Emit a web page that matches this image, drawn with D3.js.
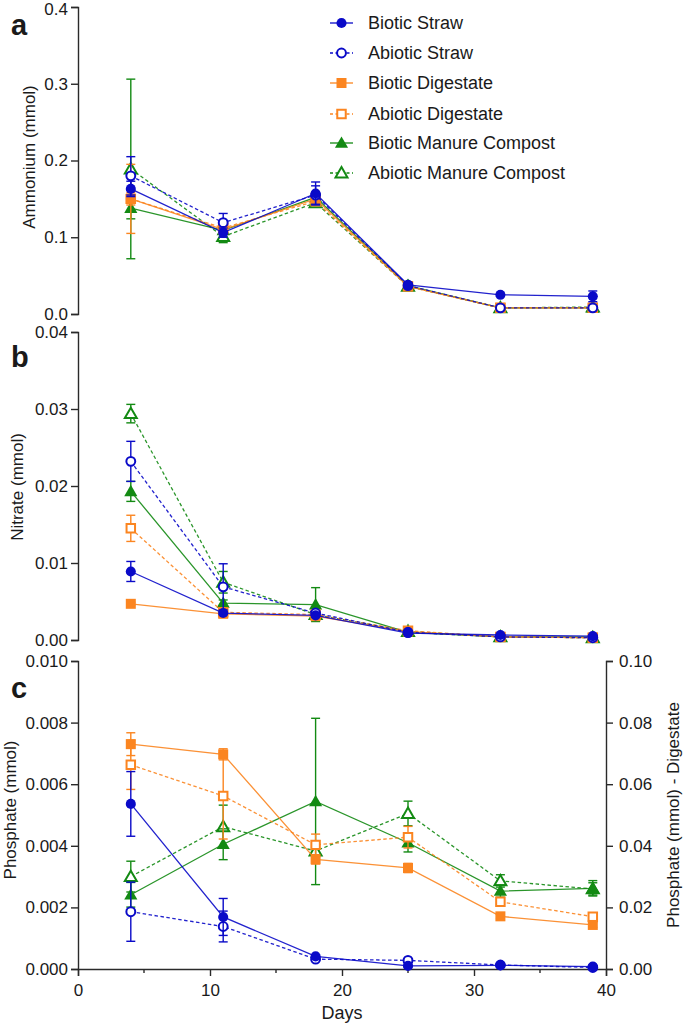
<!DOCTYPE html>
<html>
<head>
<meta charset="utf-8">
<script src="https://cdn.jsdelivr.net/npm/d3@7"></script>
<style>
  html, body { margin: 0; padding: 0; background: #fff; }
  svg { display: block; }
  text { font-family: Arial, "Liberation Sans", sans-serif; fill: #1a1a1a; }
</style>
</head>
<body>
<svg id="chart" width="685" height="1029"></svg>
<script>
// ---------- DATA ----------
const days = [4, 11, 18, 25, 32, 39];
const seriesNames = ["Biotic Straw", "Abiotic Straw", "Biotic Digestate", "Abiotic Digestate", "Biotic Manure Compost", "Abiotic Manure Compost"];
const seriesColors = ["#0a0ac8", "#0a0ac8", "#fb8520", "#fb8520", "#138a13", "#138a13"];
const seriesShapes = ["circle", "circle", "square", "square", "triangle", "triangle"];
const seriesFilled = [true, false, true, false, true, false];

// Ammonium (mmol)
const ammoniumMeans = [
  [0.163, 0.106, 0.157, 0.038, 0.025, 0.023],
  [0.180, 0.119, 0.155, 0.037, 0.008, 0.008],
  [0.150, 0.110, 0.150, 0.036, 0.008, 0.008],
  [0.150, 0.112, 0.147, 0.036, 0.008, 0.008],
  [0.138, 0.109, 0.152, 0.037, 0.008, 0.008],
  [0.189, 0.101, 0.145, 0.036, 0.008, 0.009]
];
const ammoniumErrors = [
  [0.010, 0.006, 0.015, 0.003, 0.002, 0.007],
  [0.025, 0.012, 0.012, 0.003, 0.001, 0.001],
  [0.008, 0.005, 0.006, 0.003, 0.001, 0.001],
  [0.045, 0.006, 0.005, 0.003, 0.001, 0.001],
  [0.014, 0.004, 0.005, 0.002, 0.001, 0.001],
  [0.117, 0.008, 0.005, 0.003, 0.001, 0.001]
];

// Nitrate (mmol)
const nitrateMeans = [
  [0.0089, 0.0035, 0.0032, 0.0009, 0.00065, 0.0005],
  [0.0232, 0.0069, 0.0035, 0.0010, 0.0004, 0.0003],
  [0.0047, 0.0034, 0.0031, 0.0011, 0.0004, 0.0003],
  [0.0145, 0.0036, 0.0033, 0.0012, 0.0004, 0.0003],
  [0.0193, 0.0048, 0.0046, 0.0010, 0.0004, 0.0004],
  [0.0294, 0.0075, 0.0033, 0.0011, 0.0004, 0.0003]
];
const nitrateErrors = [
  [0.0013, 0.0002, 0.0002, 0.0001, 0.0001, 0.0001],
  [0.0026, 0.0030, 0.0003, 0.0001, 0.0001, 0.0001],
  [0.0002, 0.0002, 0.0002, 0.0001, 0.0001, 0.0001],
  [0.0017, 0.0002, 0.0002, 0.0001, 0.0001, 0.0001],
  [0.0013, 0.0004, 0.0022, 0.0001, 0.0001, 0.0001],
  [0.0012, 0.0014, 0.0003, 0.0001, 0.0001, 0.0001]
];

// Phosphate (mmol); digestate series are on the right axis
const phosphateMeans = [
  [0.00536, 0.00169, 0.00041, 0.00010, 0.00012, 0.00008],
  [0.00186, 0.00138, 0.00032, 0.00028, 0.00013, 0.00005],
  [0.0730, 0.0697, 0.0356, 0.0328, 0.0171, 0.0143],
  [0.0663, 0.0562, 0.0403, 0.0428, 0.0218, 0.0170],
  [0.00241, 0.00405, 0.00544, 0.00410, 0.00253, 0.00262],
  [0.00300, 0.00462, 0.00383, 0.00505, 0.00286, 0.00260]
];
const phosphateErrors = [
  [0.00105, 0.0006, 0.00005, 0.00003, 0.00005, 0.00003],
  [0.00096, 0.0005, 0.00005, 0.00005, 0.00003, 0.00003],
  [0.0037, 0.0018, 0.0015, 0.0015, 0.0008, 0.0008],
  [0.0080, 0.0140, 0.0035, 0.0035, 0.0010, 0.0010],
  [0.0004, 0.0005, 0.0027, 0.0003, 0.0002, 0.00025],
  [0.0005, 0.0007, 0.0002, 0.0004, 0.0002, 0.0002]
];
const phosphateRightAxis = [false, false, true, true, false, false];

const ammoniumTicks = [0, 0.1, 0.2, 0.3, 0.4];
const nitrateTicks = [0, 0.01, 0.02, 0.03, 0.04];
const phosphateTicks = [0, 0.002, 0.004, 0.006, 0.008, 0.010];
const phosphateRightTicks = [0, 0.02, 0.04, 0.06, 0.08, 0.10];
const dayTicks = [0, 10, 20, 30, 40];
const dayMinorTicks = [5, 15, 25, 35];

// ---------- DRAW ----------
const svg = d3.select("#chart");
const X0 = 78, X1 = 606;
const x = d3.scaleLinear().domain([0, 40]).range([X0, X1]);
const AXIS = "#2a2a2a";
const FS = 17;

function symbolPath(shape) {
  if (shape === "circle") return d3.symbol(d3.symbolCircle, 80)();
  if (shape === "square") return d3.symbol(d3.symbolSquare, 100)();
  return d3.symbol(d3.symbolTriangle, 75)();
}
function openSymbolPath(shape) {
  if (shape === "circle") return d3.symbol(d3.symbolCircle, 62)();
  if (shape === "square") return d3.symbol(d3.symbolSquare, 72)();
  return d3.symbol(d3.symbolTriangle, 62)();
}

function styleAxis(g) {
  g.select(".domain").attr("stroke", AXIS).attr("stroke-width", 1.4);
  g.selectAll(".tick line").attr("stroke", AXIS).attr("stroke-width", 1.4);
  g.selectAll(".tick text").attr("font-size", FS).attr("fill", "#1a1a1a")
    .style("font-family", "Arial, 'Liberation Sans', sans-serif");
}

function drawPanel(opt) {
  const y = d3.scaleLinear().domain(opt.domain).range([opt.bottom, opt.top]);
  const yR = opt.rightDomain ? d3.scaleLinear().domain(opt.rightDomain).range([opt.bottom, opt.top]) : null;
  const g = svg.append("g");

  // left axis
  const ay = g.append("g").attr("transform", `translate(${X0},0)`)
    .call(d3.axisLeft(y).tickValues(opt.ticks).tickFormat(opt.fmt).tickSizeOuter(0).tickSize(7).tickPadding(3));
  styleAxis(ay);
  if (opt.topLabelNudge) {
    ay.selectAll(".tick text").filter(d => d === opt.domain[1]).attr("dy", "0.45em");
  }

  if (yR) {
    const ar = g.append("g").attr("transform", `translate(${X1},0)`)
      .call(d3.axisRight(yR).tickValues(opt.rightTicks).tickFormat(d3.format(".2f")).tickSizeOuter(0).tickSize(7).tickPadding(6));
    styleAxis(ar);
  }
  if (opt.xAxis) {
    const ax = g.append("g").attr("transform", `translate(0,${opt.bottom})`)
      .call(d3.axisBottom(x).tickValues(dayTicks).tickFormat(d3.format("d")).tickSizeOuter(0).tickSize(7).tickPadding(8));
    styleAxis(ax);
    ax.selectAll(".minor").data(dayMinorTicks).enter().append("line")
      .attr("x1", d => x(d)).attr("x2", d => x(d)).attr("y1", 0).attr("y2", 4)
      .attr("stroke", AXIS).attr("stroke-width", 1.4);
    g.append("text").attr("x", x(20)).attr("y", opt.bottom + 50).attr("text-anchor", "middle")
      .attr("font-size", 18).text("Days");
  }

  // axis titles
  g.append("text").attr("transform", `translate(${opt.titleX},${opt.titleY}) rotate(-90)`)
    .attr("text-anchor", "middle").attr("font-size", FS).text(opt.title);
  if (opt.rightTitle) {
    g.append("text").attr("transform", `translate(${opt.rightTitleX},${opt.rightTitleY}) rotate(-90)`)
      .attr("text-anchor", "middle").attr("font-size", FS).text(opt.rightTitle);
  }
  // panel letter
  g.append("text").attr("x", 11).attr("y", opt.letterY).attr("font-size", 29)
    .attr("font-weight", "bold").text(opt.letter);

  // series drawn in reverse so Biotic Straw ends on top
  for (let s = seriesNames.length - 1; s >= 0; s--) {
    const ys = (opt.rightSeries && opt.rightSeries[s]) ? yR : y;
    const color = seriesColors[s];
    const pts = days.map((d, i) => ({ d, v: opt.means[s][i], e: opt.errors[s][i] }));
    const sg = g.append("g");
    sg.append("path").datum(pts)
      .attr("d", d3.line().x(p => x(p.d)).y(p => ys(p.v)))
      .attr("fill", "none").attr("stroke", color).attr("stroke-width", 1.3)
      .attr("stroke-dasharray", seriesFilled[s] ? null : "3.5,2.5").attr("opacity", 0.9);
    // error bars
    const eb = sg.selectAll(".eb").data(pts).enter().append("g");
    eb.append("line").attr("x1", p => x(p.d)).attr("x2", p => x(p.d))
      .attr("y1", p => ys(p.v - p.e)).attr("y2", p => ys(p.v + p.e))
      .attr("stroke", color).attr("stroke-width", 1.4);
    [-1, 1].forEach(sign => {
      eb.append("line").attr("x1", p => x(p.d) - 4.5).attr("x2", p => x(p.d) + 4.5)
        .attr("y1", p => ys(p.v + sign * p.e)).attr("y2", p => ys(p.v + sign * p.e))
        .attr("stroke", color).attr("stroke-width", 1.4);
    });
    // markers
    sg.selectAll(".mk").data(pts).enter().append("path")
      .attr("transform", p => `translate(${x(p.d)},${ys(p.v) + (seriesShapes[s] === "triangle" ? 1 : 0)})`)
      .attr("d", seriesFilled[s] ? symbolPath(seriesShapes[s]) : openSymbolPath(seriesShapes[s]))
      .attr("fill", seriesFilled[s] ? color : "#fff")
      .attr("stroke", color).attr("stroke-width", seriesFilled[s] ? 0 : 2);
  }
}

drawPanel({
  domain: [0, 0.4], top: 7, bottom: 314, ticks: ammoniumTicks, fmt: d3.format(".1f"),
  means: ammoniumMeans, errors: ammoniumErrors, topLabelNudge: true,
  title: "Ammonium (mmol)", titleX: 35, titleY: 157, letter: "a", letterY: 35
});
drawPanel({
  domain: [0, 0.04], top: 332, bottom: 640, ticks: nitrateTicks, fmt: d3.format(".2f"),
  means: nitrateMeans, errors: nitrateErrors,
  title: "Nitrate (mmol)", titleX: 23, titleY: 487, letter: "b", letterY: 367
});
drawPanel({
  domain: [0, 0.01], top: 661, bottom: 969, ticks: phosphateTicks, fmt: d3.format(".3f"),
  rightDomain: [0, 0.1], rightTicks: phosphateRightTicks, rightSeries: phosphateRightAxis,
  means: phosphateMeans, errors: phosphateErrors, xAxis: true,
  title: "Phosphate (mmol)", titleX: 16, titleY: 810,
  rightTitle: "Phosphate (mmol) - Digestate", rightTitleX: 679, rightTitleY: 815,
  letter: "c", letterY: 698
});

// legend
const legend = svg.append("g");
const legendRows = [23, 53, 83, 114, 143, 173];
seriesNames.forEach((name, s) => {
  const ly = legendRows[s];
  const color = seriesColors[s];
  legend.append("line").attr("x1", 330).attr("x2", 353).attr("y1", ly).attr("y2", ly)
    .attr("stroke", color).attr("stroke-width", 1.3)
    .attr("stroke-dasharray", seriesFilled[s] ? null : "3,2.5");
  legend.append("path")
    .attr("transform", `translate(341.5,${ly + (seriesShapes[s] === "triangle" ? 1 : 0)})`)
    .attr("d", seriesFilled[s] ? symbolPath(seriesShapes[s]) : openSymbolPath(seriesShapes[s]))
    .attr("fill", seriesFilled[s] ? color : "#fff")
    .attr("stroke", color).attr("stroke-width", seriesFilled[s] ? 0 : 2);
  legend.append("text").attr("x", 368).attr("y", ly).attr("dy", "0.35em")
    .attr("font-size", 18).text(name);
});
</script>
</body>
</html>
